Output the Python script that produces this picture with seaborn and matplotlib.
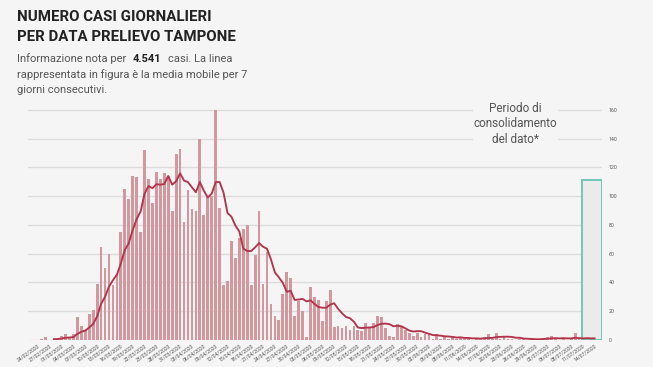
import matplotlib
matplotlib.use("Agg")
import matplotlib.pyplot as plt
from matplotlib.patches import Rectangle
import pandas as pd
import numpy as np
import seaborn as sns

# daily cases by swab date, 24/02/2020 -> 14/07/2020
cases = [0, 1, 2, 0, 0, 1, 3, 4, 2, 4, 16, 10, 7, 18, 21, 39, 65, 50, 60, 38,
         45, 75, 105, 98, 114, 113, 75, 132, 112, 95, 117, 112, 116, 114, 90, 129, 133, 82, 104, 91,
         90, 140, 87, 100, 100, 160, 92, 38, 41, 69, 57, 71, 77, 80, 38, 59, 90, 39, 61, 25,
         17, 14, 32, 47, 43, 17, 27, 20, 2, 37, 30, 28, 13, 27, 35, 9, 10, 8, 10, 7,
         10, 7, 6, 12, 9, 12, 17, 16, 8, 3, 2, 11, 10, 7, 5, 3, 5, 2, 4, 4,
         1, 4, 1, 2, 1, 2, 1, 2, 1, 1, 0, 1, 1, 2, 4, 1, 5, 1, 2, 1,
         1, 0, 1, 1, 0, 1, 0, 1, 1, 2, 3, 1, 0, 1, 0, 1, 5, 1, 0, 1,
         0, 0]
dates = pd.date_range("2020-02-24", periods=len(cases), freq="D").strftime("%d/%m/%Y").tolist()
yticks = [0, 20, 40, 60, 80, 100, 120, 140, 160]
consolidation_days = 4  # last days still being consolidated
total_cases = "4.541"

bg = "#f5f5f5"
bar_color = "#d4979d"
line_color = "#b3344b"
grey_txt = "#555555"

df = pd.DataFrame({"date": dates, "cases": cases})
df["ma"] = df["cases"].rolling(7, min_periods=1).mean()
n = len(df)

sns.set_style("white")
plt.rcParams["font.family"] = ["Roboto", "DejaVu Sans"]

fig = plt.figure(figsize=(6.53, 3.67), dpi=100)
fig.patch.set_facecolor(bg)
ax = fig.add_axes([28 / 653, 1 - 340 / 367, (602 - 28) / 653, (340 - 107) / 367])
ax.set_facecolor(bg)

for v in yticks:
    ax.axhline(v, color="#dcdcdc", lw=1.0, zorder=0)

sns.barplot(data=df, x="date", y="cases", color=bar_color, width=0.7,
            saturation=1, linewidth=0, ax=ax, zorder=2)

# consolidation box
ax.add_patch(Rectangle((n - consolidation_days - 0.3, 0), consolidation_days + 1.1, 111,
                       facecolor="#ebebeb", edgecolor="#72c6b6", lw=1.4, zorder=3))

sns.lineplot(x=np.arange(4, n), y=df["ma"].values[4:], color=line_color, lw=1.35,
             ax=ax, zorder=4)

ax.set_xlim(-2.5, 142.8)
ax.set_ylim(0, 162)
ax.set_xticks(range(0, n, 3))
ax.set_xticklabels(dates[::3], rotation=35, ha="right", rotation_mode="anchor",
                   fontsize=3.6, color=grey_txt)
ax.yaxis.tick_right()
ax.set_yticks(yticks)
ax.set_yticklabels([str(v) for v in yticks], fontsize=3.8, color=grey_txt)
ax.tick_params(axis="both", length=0)
ax.tick_params(axis="y", pad=5)
ax.tick_params(axis="x", pad=2)
ax.set_xlabel("")
ax.set_ylabel("")
for s in ax.spines.values():
    s.set_visible(False)

ax.text(120.8, 150.3, "Periodo di\nconsolidamento\ndel dato*", ha="center", va="center",
        fontsize=8.5, color=grey_txt, linespacing=1.25, zorder=5, clip_on=False,
        bbox=dict(facecolor=bg, edgecolor="none", pad=0.5))

# titles
fig.text(17 / 653, 1 - 17 / 367, "NUMERO CASI GIORNALIERI",
         ha="left", va="center", fontsize=10.8, fontweight="bold", color="#222222")
fig.text(17 / 653, 1 - 37 / 367, "PER DATA PRELIEVO TAMPONE",
         ha="left", va="center", fontsize=10.8, fontweight="bold", color="#222222")

renderer = fig.canvas.get_renderer()
t1 = fig.text(17 / 653, 1 - 59 / 367, "Informazione nota per", ha="left", va="center",
              fontsize=8.0, color=grey_txt)
x1 = t1.get_window_extent(renderer).x1
t2 = fig.text((x1 + 6) / 653, 1 - 59 / 367, total_cases, ha="left", va="center",
              fontsize=8.0, fontweight="bold", color="#222222")
x2 = t2.get_window_extent(renderer).x1
fig.text((x2 + 7) / 653, 1 - 59 / 367, "casi. La linea", ha="left", va="center",
         fontsize=8.0, color=grey_txt)
fig.text(17 / 653, 1 - 74.5 / 367, "rappresentata in figura è la media mobile per 7",
         ha="left", va="center", fontsize=8.0, color=grey_txt)
fig.text(17 / 653, 1 - 90 / 367, "giorni consecutivi.",
         ha="left", va="center", fontsize=8.0, color=grey_txt)

fig.savefig("out.png", dpi=100, facecolor=bg)
